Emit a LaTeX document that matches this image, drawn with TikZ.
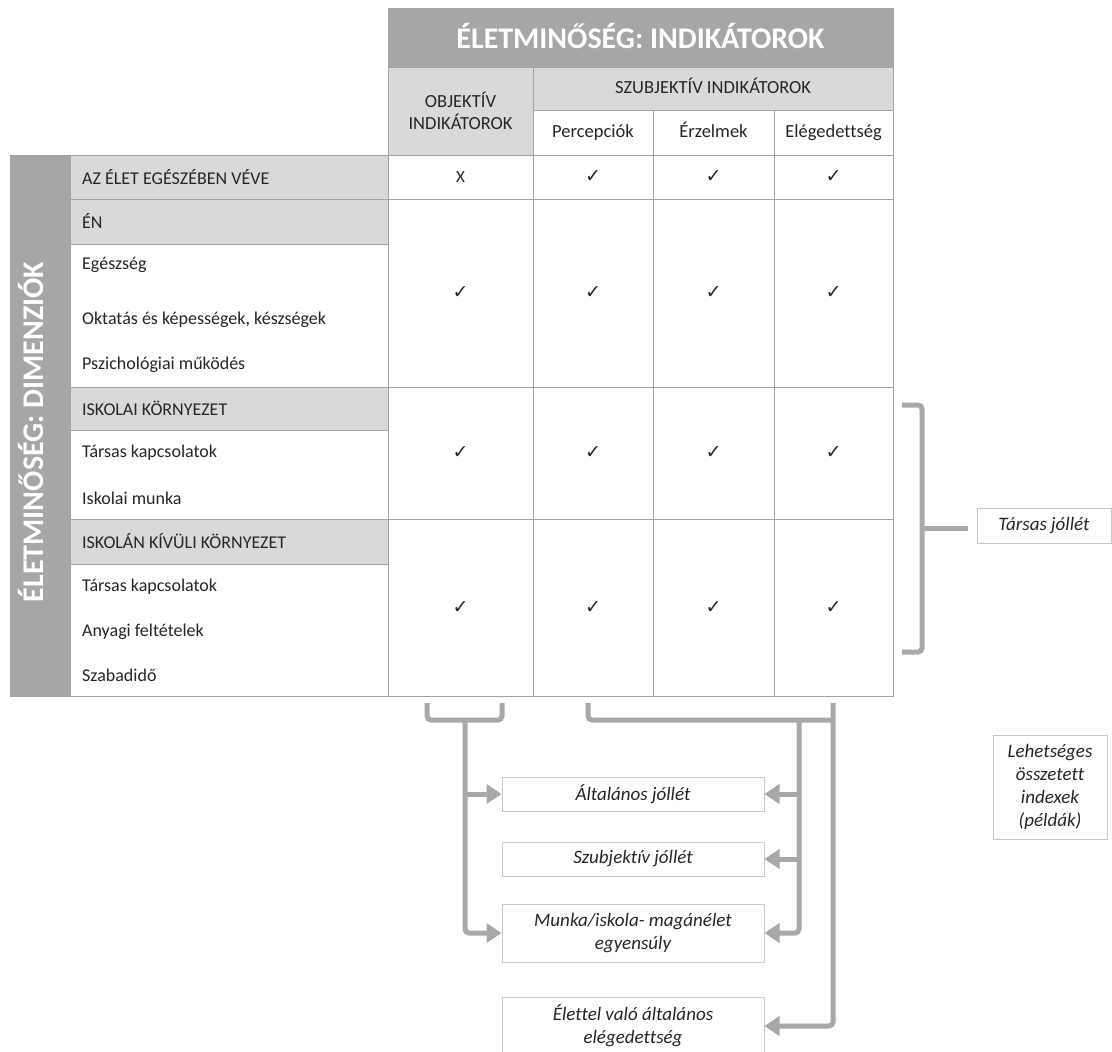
\documentclass[tikz,border=0pt]{standalone}
\usepackage{fontspec}
\setmainfont{Carlito}[Ligatures=NoCommon]
\newfontfamily\symfont{DejaVu Sans}
\usetikzlibrary{arrows.meta}
\definecolor{darkg}{HTML}{A6A6A6}
\definecolor{lightg}{HTML}{D9D9D9}
\definecolor{gridg}{HTML}{A3A3A3}
\definecolor{txt}{HTML}{262626}
\definecolor{brkg}{HTML}{A8A8A8}
\definecolor{boxg}{HTML}{C8C8C8}
\newcommand\tcell[7]{\node[cellbox,#2,minimum width={(#5-#3)*1pt},minimum height={(#6-#4)*1pt}] (#1) at ({(#3+#5)/2},{(#4+#6)/2}) {#7};}
\begin{document}
\begin{tikzpicture}[x=1pt,y=-1pt,
  cellbox/.style={draw=gridg, line width=1pt, inner sep=0pt, outer sep=0pt, text=txt, align=center},
  hdr/.style={fill=lightg, font=\fontsize{18.5}{22}\selectfont},
  colh/.style={fill=white, font=\fontsize{18.5}{22}\selectfont, text height=13pt, text depth=4pt},
  dk/.style={fill=darkg},
  wt/.style={fill=white},
  lbl/.style={anchor=west, text=txt, inner sep=0pt, font=\fontsize{18}{21}\selectfont},
  chk/.style={text=txt, font=\symfont\fontsize{19}{21}\selectfont},
  ibox/.style={draw=boxg, line width=1pt, fill=white, text=txt, align=center, inner sep=0pt, font=\itshape\fontsize{19}{23}\selectfont},
  brk/.style={draw=brkg, line width=5pt, rounded corners=4pt},
  arr/.style={brk, -{Triangle[length=15pt,width=19pt]}}]
\useasboundingbox (0,0) rectangle (1112,1052);
\clip (0,0) rectangle (1112,1052);
\fill[white] (0,0) rectangle (1112,1052);
% header
\tcell{title}{dk}{388}{8}{893}{67}{}
\node[anchor=base, text=white, font=\bfseries\fontsize{30}{34}\selectfont] (titletxt) at (640.5,48) {ÉLETMINŐSÉG: INDIKÁTOROK};
\tcell{obj}{hdr}{388}{67}{533}{155}{OBJEKTÍV\\INDIKÁTOROK}
\tcell{szub}{hdr, text height=13pt, text depth=4pt}{533}{67}{893}{110}{SZUBJEKTÍV INDIKÁTOROK}
\tcell{perc}{colh}{533}{110}{653}{155}{Percepciók}
\tcell{erz}{colh}{653}{110}{774}{155}{Érzelmek}
\tcell{eleg}{colh}{774}{110}{893}{155}{Elégedettség}
% left band
\tcell{band}{dk}{10}{155}{70}{696}{}
\node[rotate=90, anchor=base, text=white, font=\bfseries\fontsize{30}{34}\selectfont] (bandtxt) at (43,432) {ÉLETMINŐSÉG: DIMENZIÓK};
% row label cells
\tcell{r1}{hdr}{70}{155}{388}{199}{}
\tcell{r2}{hdr}{70}{199}{388}{244}{}
\tcell{r3}{wt}{70}{244}{388}{387}{}
\tcell{r4}{hdr}{70}{387}{388}{430}{}
\tcell{r5}{wt}{70}{430}{388}{519}{}
\tcell{r6}{hdr}{70}{519}{388}{564}{}
\tcell{r7}{wt}{70}{564}{388}{696}{}
\node[lbl] (l1) at (82,177) {AZ ÉLET EGÉSZÉBEN VÉVE};
\node[lbl] (l2) at (82,221) {ÉN};
\node[lbl] (l3) at (82,265) {Egészség};
\node[lbl] (l4) at (82,320) {Oktatás és képességek, készségek};
\node[lbl] (l5) at (82,365) {Pszichológiai működés};
\node[lbl] (l6) at (82,408) {ISKOLAI KÖRNYEZET};
\node[lbl] (l7) at (82,453) {Társas kapcsolatok};
\node[lbl] (l8) at (82,498) {Iskolai munka};
\node[lbl] (l9) at (82,541) {ISKOLÁN KÍVÜLI KÖRNYEZET};
\node[lbl] (l10) at (82,587) {Társas kapcsolatok};
\node[lbl] (l11) at (82,632) {Anyagi feltételek};
\node[lbl] (l12) at (82,675) {Szabadidő};
% data cells
\tcell{a1}{wt, font=\fontsize{17}{20}\selectfont}{388}{155}{533}{199}{X}
\tcell{a2}{wt,chk}{533}{155}{653}{199}{✓}
\tcell{a3}{wt,chk}{653}{155}{774}{199}{✓}
\tcell{a4}{wt,chk}{774}{155}{893}{199}{✓}
\tcell{b1}{wt,chk}{388}{199}{533}{387}{✓}
\tcell{b2}{wt,chk}{533}{199}{653}{387}{✓}
\tcell{b3}{wt,chk}{653}{199}{774}{387}{✓}
\tcell{b4}{wt,chk}{774}{199}{893}{387}{✓}
\tcell{c1}{wt,chk}{388}{387}{533}{519}{✓}
\tcell{c2}{wt,chk}{533}{387}{653}{519}{✓}
\tcell{c3}{wt,chk}{653}{387}{774}{519}{✓}
\tcell{c4}{wt,chk}{774}{387}{893}{519}{✓}
\tcell{d1}{wt,chk}{388}{519}{533}{696}{✓}
\tcell{d2}{wt,chk}{533}{519}{653}{696}{✓}
\tcell{d3}{wt,chk}{653}{519}{774}{696}{✓}
\tcell{d4}{wt,chk}{774}{519}{893}{696}{✓}
% index boxes
\node[ibox, minimum width=262pt, minimum height=34pt] (gen) at (633,794) {Általános jóllét};
\node[ibox, minimum width=262pt, minimum height=34pt] (sub) at (633,859) {Szubjektív jóllét};
\node[ibox, minimum width=262pt, minimum height=58pt] (mun) at (633,933) {Munka/iskola- magánélet\\egyensúly};
\node[ibox, minimum width=262pt, minimum height=58pt] (ele) at (633,1026) {Élettel való általános\\elégedettség};
\node[ibox, minimum width=134pt, minimum height=35pt] (tj) at (1044,525.5) {Társas jóllét};
\node[ibox, minimum width=114pt, minimum height=104pt] (leh) at (1050,787) {Lehetséges\\összetett\\indexek\\(példák)};
% brackets
\coordinate (stemL) at (465,720);
\coordinate (stemR) at (799,720);
\coordinate (farR) at (833,703);
\coordinate (tjtip) at (922,528);
\draw[brk] (427,703) -- (427,720) -- (502,720) -- (502,703);
\draw[brk] (588,703) -- (588,720) -- (833,720);
\draw[arr] (stemL) |- (mun.west);
\draw[arr] (stemL |- gen.west) -- (gen.west);
\draw[arr] (stemR) |- (mun.east);
\draw[arr] (stemR |- gen.east) -- (gen.east);
\draw[arr] (stemR |- sub.east) -- (sub.east);
\draw[arr] (farR) |- (ele.east);
\draw[brk] (902,405) -- (922,405) -- (922,652) -- (902,652);
\draw[brk, shorten >=9pt] (tjtip) -- (tjtip -| tj.west);
\end{tikzpicture}
\end{document}
